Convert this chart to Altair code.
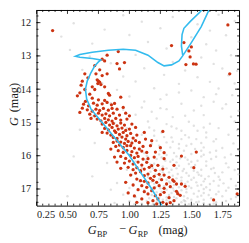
import altair as alt
import pandas as pd

# ---------------- data ----------------
red_pts = [
    (0.38, 12.24), (1.795, 12.07), (1.34, 12.69), (1.44, 12.60), (1.50, 12.73), (1.48, 12.85),
    (1.49, 13.03), (1.456, 13.26), (1.517, 13.24), (1.538, 13.25), (1.81, 13.54), (0.91, 12.87),
    (0.96, 13.2), (0.82, 12.98), (0.78, 13.1), (0.90, 13.23), (0.72, 13.29), (0.92, 13.39),
    (0.76, 13.42), (0.73, 13.54), (0.64, 13.54), (0.82, 13.54), (0.78, 13.59), (0.665, 13.66),
    (0.74, 13.72), (0.75, 13.76), (0.76, 13.79), (0.745, 13.83), (0.77, 13.86), (0.62, 13.76),
    (0.61, 13.88), (0.70, 13.93), (0.64, 14.01), (0.80, 13.93), (0.72, 14.01), (0.60, 14.11),
    (0.68, 14.15), (0.83, 14.13), (0.84, 14.18), (0.58, 14.2), (0.93, 14.24), (0.70, 14.27),
    (0.645, 14.37), (0.75, 14.32), (0.80, 14.34), (0.855, 14.47), (0.62, 14.57), (0.80, 13.15),
    (0.63, 14.45), (0.67, 14.5), (0.71, 14.42), (0.74, 14.48), (0.78, 14.44), (0.82, 14.4),
    (0.88, 14.43), (0.66, 14.62), (0.70, 14.66), (0.73, 14.6), (0.76, 14.64), (0.79, 14.58),
    (0.83, 14.63), (0.86, 14.58), (0.9, 14.6), (0.95, 14.55), (0.68, 14.75), (0.72, 14.8),
    (0.75, 14.72), (0.78, 14.78), (0.81, 14.74), (0.84, 14.8), (0.87, 14.72), (0.92, 14.78),
    (0.97, 14.72), (1.0, 14.8), (0.74, 14.9), (0.77, 14.95), (0.8, 14.88), (0.83, 14.92),
    (0.86, 14.96), (0.89, 14.88), (0.93, 14.93), (0.98, 14.9), (0.6, 14.7), (0.69, 14.88),
    (0.78, 15.05), (0.81, 15.0), (0.84, 15.08), (0.87, 15.03), (0.9, 15.1), (0.93, 15.02),
    (0.96, 15.08), (1.02, 15.05), (0.8, 15.18), (0.83, 15.22), (0.86, 15.15), (0.88, 15.25),
    (0.91, 15.2), (0.94, 15.17), (0.97, 15.24), (1.0, 15.2), (1.05, 15.15), (0.82, 15.32),
    (0.85, 15.38), (0.89, 15.3), (0.92, 15.36), (0.95, 15.3), (0.98, 15.4), (1.01, 15.33),
    (1.06, 15.38), (1.12, 15.3), (0.87, 15.45), (0.9, 15.48), (0.94, 15.44), (0.97, 15.5),
    (1.03, 15.47), (1.27, 15.27), (0.78, 15.3),
    (0.87, 15.6), (0.9, 15.56), (0.93, 15.59), (0.96, 15.63), (0.99, 15.57), (1.02, 15.62),
    (1.05, 15.55), (1.08, 15.6), (1.13, 15.5), (1.18, 15.55), (0.89, 15.72), (0.92, 15.68),
    (0.95, 15.75), (0.98, 15.7), (1.01, 15.7), (1.04, 15.77), (1.08, 15.8), (1.11, 15.72),
    (1.17, 15.7), (1.25, 15.76), (0.91, 15.85), (0.95, 15.9), (0.98, 15.84), (1.02, 15.88),
    (1.06, 15.92), (1.1, 15.86), (1.14, 15.9), (1.21, 15.89), (1.28, 15.91), (0.85, 15.8),
    (0.88, 16.04), (0.93, 16.02), (0.97, 16.08), (1.01, 15.99), (1.04, 16.06), (1.07, 16.02),
    (1.11, 16.1), (1.15, 16.09), (1.2, 16.04), (1.28, 16.09), (0.9, 16.19), (0.96, 16.22),
    (1.0, 16.16), (1.03, 16.25), (1.07, 16.19), (1.1, 16.28), (1.14, 16.2), (1.18, 16.3),
    (1.23, 16.29), (1.36, 16.29), (0.93, 16.38), (0.99, 16.35), (1.03, 16.42), (1.06, 16.36),
    (1.09, 16.45), (1.12, 16.4), (1.16, 16.35), (1.21, 16.44), (1.27, 16.4), (1.42, 16.01),
    (1.52, 16.36), (1.54, 15.89),
    (1.01, 16.58), (1.05, 16.52), (1.09, 16.48), (1.12, 16.6), (1.15, 16.55), (1.17, 16.68),
    (1.2, 16.62), (1.24, 16.56), (1.28, 16.58), (1.32, 16.65), (1.06, 16.7), (1.09, 16.75),
    (1.12, 16.77), (1.15, 16.82), (1.19, 16.74), (1.22, 16.8), (1.26, 16.72), (1.3, 16.85),
    (1.36, 16.77), (1.38, 16.85), (1.35, 16.73), (1.42, 16.85), (1.45, 16.92), (1.03, 16.88),
    (1.1, 16.9), (1.14, 16.95), (1.2, 16.97), (1.24, 16.9), (1.28, 16.98), (1.33, 16.93),
    (0.97, 16.8),
    (0.99, 17.12), (1.04, 17.21), (1.07, 17.02), (1.12, 17.08), (1.15, 17.15), (1.18, 17.05),
    (1.21, 17.2), (1.25, 17.17), (1.28, 17.1), (1.32, 17.26), (1.38, 17.07), (1.39, 17.14),
    (1.41, 17.19), (1.15, 17.41), (1.33, 17.41), (1.1, 17.3), (1.19, 17.35), (1.23, 17.3),
    (1.27, 17.4), (1.36, 17.35), (1.06, 17.4), (1.22, 17.45), (1.68, 17.33), (1.87, 17.15),
    (1.3, 17.45),
]

gray_pts = [
    (0.95, 11.78), (1.35, 11.83), (1.72, 11.76), (0.55, 12.02), (1.1, 11.97), (1.55, 12.05),
    (1.85, 11.95), (0.8, 12.21), (1.25, 12.17), (1.65, 12.24), (0.45, 12.42), (1.0, 12.37),
    (1.5, 12.44), (1.78, 12.38), (0.7, 12.63), (1.15, 12.58), (1.62, 12.65), (1.88, 12.57),
    (0.52, 12.82), (1.3, 12.78), (1.7, 12.84), (0.68, 13.02), (1.05, 12.97), (1.58, 13.05),
    (1.82, 12.98), (0.85, 13.22), (1.35, 13.18), (1.68, 13.24), (0.62, 13.42), (1.12, 13.37),
    (1.45, 13.44), (1.75, 13.38), (1.87, 13.45), (0.95, 13.62), (1.28, 13.57), (1.55, 13.64),
    (1.8, 13.58), (0.78, 13.82), (1.05, 13.77), (1.4, 13.84), (1.65, 13.78), (1.85, 13.83),
    (0.9, 14.02), (1.2, 13.97), (1.5, 14.04), (1.72, 13.98), (1.0, 14.22), (1.3, 14.17),
    (1.6, 14.24), (1.83, 14.18), (0.85, 14.42), (1.12, 14.37), (1.42, 14.44), (1.68, 14.38),
    (1.78, 14.45), (0.95, 14.62), (1.25, 14.57), (1.52, 14.64), (1.75, 14.58), (1.88, 14.65),
    (0.7, 14.82), (1.05, 14.77), (1.35, 14.84), (1.6, 14.78), (1.82, 14.83), (1.18, 14.68),
    (0.88, 15.02), (1.15, 14.97), (1.3, 15.05), (1.48, 14.98), (1.65, 15.04), (1.85, 14.97),
    (0.6, 15.22), (0.98, 15.17), (1.2, 15.24), (1.38, 15.18), (1.55, 15.25), (1.72, 15.17),
    (1.87, 15.23), (0.92, 15.42), (1.1, 15.37), (1.28, 15.44), (1.45, 15.38), (1.62, 15.45),
    (1.8, 15.37), (0.72, 15.62), (1.02, 15.57), (1.18, 15.64), (1.35, 15.58), (1.5, 15.65),
    (1.68, 15.57), (1.84, 15.63), (0.95, 15.82), (1.08, 15.77), (1.25, 15.84), (1.4, 15.78),
    (1.58, 15.85), (1.75, 15.77), (1.88, 15.83), (0.55, 16.02), (1.0, 15.97), (1.15, 16.04),
    (1.3, 15.98), (1.45, 16.05), (1.6, 15.97), (1.7, 16.03), (1.82, 15.96), (0.82, 16.22),
    (1.05, 16.17), (1.2, 16.24), (1.33, 16.18), (1.48, 16.25), (1.62, 16.17), (1.78, 16.23),
    (0.98, 16.42), (1.1, 16.37), (1.25, 16.44), (1.38, 16.38), (1.52, 16.45), (1.68, 16.37),
    (1.85, 16.43), (0.7, 16.62), (1.02, 16.57), (1.15, 16.64), (1.28, 16.58), (1.42, 16.65),
    (1.56, 16.57), (1.72, 16.63), (1.88, 16.56), (0.9, 16.82), (1.08, 16.77), (1.2, 16.84),
    (1.32, 16.78), (1.45, 16.85), (1.6, 16.77), (1.76, 16.83), (0.85, 17.02), (1.0, 16.97),
    (1.12, 17.04), (1.25, 16.98), (1.36, 17.05), (1.5, 16.97), (1.65, 17.03), (1.8, 16.96),
    (0.5, 17.22), (0.95, 17.17), (1.05, 17.24), (1.18, 17.18), (1.3, 17.25), (1.4, 17.17),
    (1.55, 17.23), (1.7, 17.16), (1.86, 17.24), (0.88, 17.42), (1.0, 17.37), (1.1, 17.44),
    (1.22, 17.38), (1.35, 17.45), (1.45, 17.37), (1.6, 17.43), (1.78, 17.36),
    (1.12, 15.92), (1.22, 16.1), (1.35, 16.12), (1.27, 16.32), (1.4, 16.3), (1.17, 16.48),
    (1.32, 16.5), (1.46, 16.52), (1.24, 16.7), (1.38, 16.68), (1.5, 16.72), (1.16, 16.9),
    (1.28, 16.92), (1.4, 16.95), (1.55, 16.9), (1.22, 17.1), (1.34, 17.12), (1.46, 17.1),
    (1.6, 17.12), (1.16, 17.28), (1.27, 17.32), (1.38, 17.28), (1.5, 17.32), (1.26, 17.48),
    (1.4, 17.47), (1.52, 17.46), (1.66, 17.28), (1.58, 16.6), (1.65, 16.85), (1.7, 17.4),
    (1.44, 15.85), (1.55, 16.15), (1.3, 15.6), (1.42, 15.5), (1.2, 15.4), (1.62, 16.3),
    (1.75, 16.5), (1.82, 16.7), (1.7, 15.85), (1.52, 15.1), (1.3, 14.6), (1.4, 14.1),
    (1.14, 16.0), (1.26, 16.05), (1.38, 16.2), (1.5, 16.18), (1.19, 16.38), (1.34, 16.42),
    (1.44, 16.4), (1.58, 16.42), (1.21, 16.56), (1.35, 16.6), (1.48, 16.6), (1.64, 16.62),
    (1.18, 16.78), (1.3, 16.72), (1.42, 16.75), (1.54, 16.8), (1.68, 16.76), (1.24, 16.86),
    (1.36, 16.88), (1.48, 16.92), (1.62, 16.95), (1.18, 17.0), (1.3, 17.02), (1.42, 17.04),
    (1.56, 17.06), (1.72, 17.08), (1.2, 17.22), (1.32, 17.18), (1.44, 17.22), (1.58, 17.2),
    (1.14, 17.36), (1.24, 17.42), (1.32, 17.38), (1.42, 17.4), (1.56, 17.38), (1.64, 17.47),
    (1.04, 17.46), (1.48, 17.46), (1.36, 15.92), (1.5, 15.95), (1.24, 15.7), (1.46, 15.7),
    (1.6, 15.75), (1.34, 15.45), (1.54, 15.5), (1.16, 15.15), (1.42, 15.25), (1.62, 15.3),
    (1.22, 14.88), (1.45, 14.8), (1.1, 14.55), (1.58, 14.5), (1.25, 14.3), (1.7, 14.15),
    (1.13, 16.12), (1.29, 16.15), (1.41, 16.08), (1.53, 16.28), (1.66, 16.1), (1.17, 16.26),
    (1.3, 16.38), (1.43, 16.46), (1.55, 16.5), (1.69, 16.52), (1.27, 16.5), (1.39, 16.55),
    (1.52, 16.66), (1.61, 16.7), (1.25, 16.62), (1.33, 16.82), (1.47, 16.78), (1.58, 16.88),
    (1.72, 16.9), (1.21, 16.94), (1.35, 16.98), (1.46, 17.0), (1.6, 17.0), (1.26, 17.08),
    (1.39, 17.1), (1.52, 17.14), (1.64, 17.18), (1.24, 17.26), (1.36, 17.24), (1.47, 17.28),
    (1.6, 17.32), (1.75, 17.22), (1.19, 17.46), (1.3, 17.34), (1.44, 17.34), (1.54, 17.4),
    (1.68, 17.44), (1.82, 17.3), (1.38, 16.02), (1.58, 16.02), (1.47, 16.12), (1.24, 15.96),
    (1.33, 15.75), (1.53, 15.8), (1.65, 15.9), (1.22, 15.55), (1.4, 15.65), (1.58, 15.62),
    (1.26, 15.3), (1.48, 15.45), (1.7, 15.5), (1.34, 15.12), (1.6, 15.15), (1.77, 16.05),
    (1.8, 16.35), (1.86, 16.9), (1.78, 17.05), (1.66, 16.4), (1.73, 16.72), (1.5, 16.35),
]

iso_pts = [
    (1.27, 17.55), (1.18, 17.0), (1.09, 16.5), (1.0, 16.0), (0.89, 15.5), (0.78, 15.0),
    (0.69, 14.6), (0.655, 14.3), (0.645, 14.0), (0.66, 13.75), (0.69, 13.5), (0.72, 13.3),
    (0.75, 13.18), (0.77, 13.12), (0.70, 13.08), (0.60, 13.04), (0.565, 13.01), (0.60, 12.96),
    (0.70, 12.89), (0.83, 12.83), (0.95, 12.8), (1.05, 12.83), (1.15, 12.98), (1.23, 13.2),
    (1.28, 13.3), (1.34, 13.27), (1.40, 13.15), (1.43, 13.0), (1.50, 12.6), (1.58, 12.12),
    (1.67, 11.4), (1.69, 11.3), (1.63, 11.35), (1.60, 11.55), (1.57, 11.68), (1.49, 11.97),
    (1.44, 12.17), (1.425, 12.36), (1.42, 12.7), (1.43, 12.98),
]

x_major = [0.25, 0.50, 0.75, 1.00, 1.25, 1.50, 1.75]
x_minor = [round(0.25 + 0.05 * i, 2) for i in range(33) if i % 5 != 0]
y_major = [12, 13, 14, 15, 16, 17]
y_minor = [round(11.8 + 0.2 * i, 1) for i in range(29) if (i + 1) % 5 != 0]

W, H = 206, 199
FONT = "Liberation Serif"

xs = alt.Scale(domain=[0.25, 1.885], nice=False, zero=False)
ys = alt.Scale(domain=[11.62, 17.5], nice=False, zero=False, reverse=True)
xax = alt.Axis(values=x_major, format=".2f", ticks=False, domain=False, grid=False, title=None,
               labelFont=FONT, labelFontSize=10.5, labelColor="#1a1a1a", labelPadding=4)
yax = alt.Axis(values=y_major, format="d", ticks=False, domain=False, grid=False, title=None,
               labelFont=FONT, labelFontSize=10.5, labelColor="#1a1a1a", labelPadding=6)

red = pd.DataFrame(red_pts, columns=["x", "y"])
gray = pd.DataFrame(gray_pts, columns=["x", "y"])
iso = pd.DataFrame(iso_pts, columns=["x", "y"])
iso["o"] = range(len(iso))

X = alt.X("x:Q", scale=xs, axis=xax)
Y = alt.Y("y:Q", scale=ys, axis=yax)

gray_layer = alt.Chart(gray).mark_circle(size=6, color="#c4c4c4", opacity=0.5).encode(x=X, y=Y)
red_layer = alt.Chart(red).mark_circle(size=11, color="#cc3311", opacity=1).encode(x=X, y=Y)
iso_layer = alt.Chart(iso).mark_line(color="#33bbee", strokeWidth=1.6, clip=True).encode(
    x=X, y=Y, order="o:Q")

layers = [gray_layer, red_layer, iso_layer]


def xticks(vals, ln):
    d = pd.DataFrame({"x": vals})
    out = []
    for y0, y1 in [(0, ln), (H, H - ln)]:
        out.append(alt.Chart(d).mark_rule(color="black", strokeWidth=0.8).encode(
            x=X, y=alt.value(y0), y2=alt.value(y1)))
    return out


def yticks(vals, ln):
    d = pd.DataFrame({"y": vals})
    out = []
    for x0, x1 in [(0, ln), (W, W - ln)]:
        out.append(alt.Chart(d).mark_rule(color="black", strokeWidth=0.8).encode(
            y=Y, x=alt.value(x0), x2=alt.value(x1)))
    return out


layers += xticks(x_major, 4) + xticks(x_minor, 2) + yticks(y_major, 4) + yticks(y_minor, 2)

# axis titles with italics and subscripts
titles = [
    ("G", 52, 228, 12.5, "italic", 0, "left"),
    ("BP", 61.5, 230.5, 8.5, "normal", 0, "left"),
    ("\u2212", 88, 227, 12.5, "normal", 0, "center"),
    ("G", 93.5, 228, 12.5, "italic", 0, "left"),
    ("RP", 103, 230.5, 8.5, "normal", 0, "left"),
    ("(mag)", 124, 228, 12.5, "normal", 0, "left"),
    ("G", -19, 118, 12.5, "italic", 270, "left"),
    ("(mag)", -19, 104, 12.5, "normal", 270, "left"),
]
for t, tx, ty, sz, st, ang, al in titles:
    layers.append(alt.Chart(pd.DataFrame({"t": [t]})).mark_text(
        font=FONT, fontSize=sz, fontStyle=st, angle=ang, align=al,
        baseline="alphabetic", color="#1a1a1a").encode(
        x=alt.value(tx), y=alt.value(ty), text="t:N"))

chart = alt.layer(*layers).properties(
    width=W, height=H,
    autosize=alt.AutoSizeParams(type="none"),
    padding={"left": 29, "top": 0, "right": 2, "bottom": 36},
).configure_view(stroke="black", strokeWidth=1)

chart.save("out.html", embed_options={"renderer": "svg", "actions": False})
